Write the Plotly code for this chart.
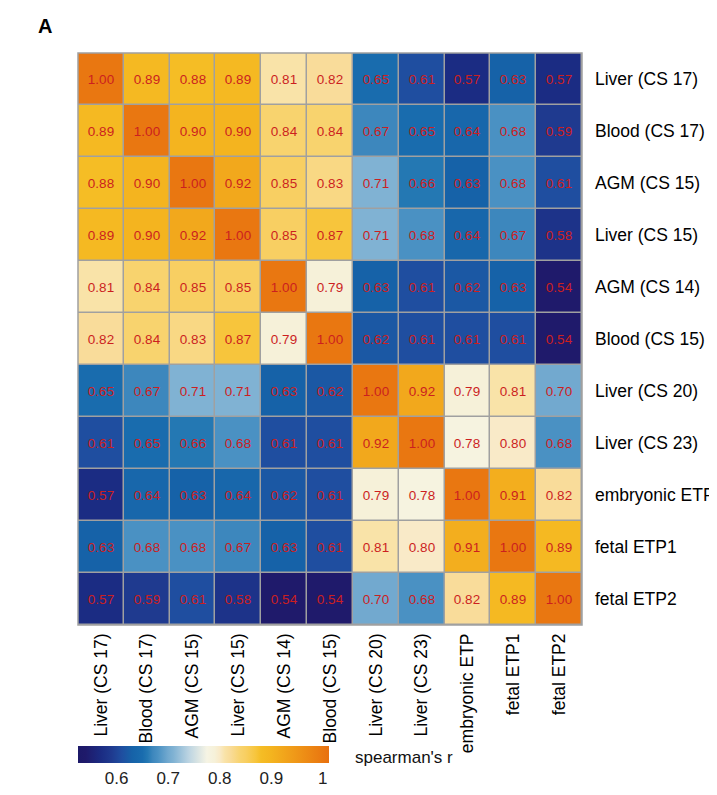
import plotly.graph_objects as go

labels = ["Liver (CS 17)", "Blood (CS 17)", "AGM (CS 15)", "Liver (CS 15)", "AGM (CS 14)",
          "Blood (CS 15)", "Liver (CS 20)", "Liver (CS 23)", "embryonic ETP", "fetal ETP1", "fetal ETP2"]

row_liver17 = [1.00, 0.89, 0.88, 0.89, 0.81, 0.82, 0.65, 0.61, 0.57, 0.63, 0.57]
row_blood17 = [0.89, 1.00, 0.90, 0.90, 0.84, 0.84, 0.67, 0.65, 0.64, 0.68, 0.59]
row_agm15 = [0.88, 0.90, 1.00, 0.92, 0.85, 0.83, 0.71, 0.66, 0.63, 0.68, 0.61]
row_liver15 = [0.89, 0.90, 0.92, 1.00, 0.85, 0.87, 0.71, 0.68, 0.64, 0.67, 0.58]
row_agm14 = [0.81, 0.84, 0.85, 0.85, 1.00, 0.79, 0.63, 0.61, 0.62, 0.63, 0.54]
row_blood15 = [0.82, 0.84, 0.83, 0.87, 0.79, 1.00, 0.62, 0.61, 0.61, 0.61, 0.54]
row_liver20 = [0.65, 0.67, 0.71, 0.71, 0.63, 0.62, 1.00, 0.92, 0.79, 0.81, 0.70]
row_liver23 = [0.61, 0.65, 0.66, 0.68, 0.61, 0.61, 0.92, 1.00, 0.78, 0.80, 0.68]
row_embryonic = [0.57, 0.64, 0.63, 0.64, 0.62, 0.61, 0.79, 0.78, 1.00, 0.91, 0.82]
row_fetal1 = [0.63, 0.68, 0.68, 0.67, 0.63, 0.61, 0.81, 0.80, 0.91, 1.00, 0.89]
row_fetal2 = [0.57, 0.59, 0.61, 0.58, 0.54, 0.54, 0.70, 0.68, 0.82, 0.89, 1.00]

z = [row_liver17, row_blood17, row_agm15, row_liver15, row_agm14, row_blood15,
     row_liver20, row_liver23, row_embryonic, row_fetal1, row_fetal2]

cbar_ticks = [0.6, 0.7, 0.8, 0.9, 1.0]
cbar_ticktext = ["0.6", "0.7", "0.8", "0.9", "1"]

zmin, zmax = 0.525, 1.012
stops = [
    (0.525, "#1c1968"), (0.54, "#1f1a6b"), (0.57, "#1b2c83"), (0.59, "#1f3a8f"),
    (0.61, "#1f4ea0"), (0.63, "#1662a8"), (0.65, "#196cae"), (0.66, "#2478b3"),
    (0.67, "#3d87bd"), (0.68, "#4a91c3"), (0.70, "#72a9cf"), (0.71, "#80b2d3"),
    (0.74, "#bcd4e2"), (0.775, "#f6f4e4"), (0.79, "#f6f1d9"), (0.80, "#f9eac8"),
    (0.81, "#f9e3a8"), (0.82, "#f9dc9a"), (0.84, "#f8d36e"), (0.85, "#f8cf62"),
    (0.87, "#f7c53c"), (0.88, "#f5bd25"), (0.90, "#f4b41f"), (0.92, "#f2a81c"),
    (0.96, "#ee9016"), (1.012, "#e8700f"),
]
colorscale = [[(v - zmin) / (zmax - zmin), c] for v, c in stops]

OFF = 8  # page body margin
W, H = 717 - OFF, 795 - OFF
L, R, T, B = 78 - OFF, 582 - OFF, 52.5 - OFF, 627 - OFF
pw, ph = R - L, B - T

fig = go.Figure(go.Heatmap(
    z=z, x=labels, y=labels,
    zmin=zmin, zmax=zmax, colorscale=colorscale,
    xgap=1.5, ygap=1.5,
    texttemplate="%{z:.2f}",
    textfont=dict(color="#cc1f1f", size=13.5, family="Liberation Sans, Arial, sans-serif"),
    hoverinfo="skip",
    colorbar=dict(
        orientation="h", lenmode="pixels", len=251, thicknessmode="pixels", thickness=17,
        x=0, xanchor="left", y=(B - (749 - OFF)) / ph, yanchor="top", xpad=0, ypad=0,
        outlinewidth=0, tickvals=cbar_ticks, ticktext=cbar_ticktext, ticks="",
        tickfont=dict(size=17, color="#222", family="Liberation Sans, Arial, sans-serif"),
    ),
))

fig.add_shape(type="rect", xref="paper", yref="paper", x0=0, x1=1, y0=0, y1=1,
              line=dict(color="#a0a0a0", width=1.5), fillcolor="rgba(0,0,0,0)")

fig.add_annotation(text="spearman's r", xref="paper", yref="paper",
                   x=(353 - OFF - L) / pw, y=(B - (760 - OFF)) / ph, xanchor="left", yanchor="middle",
                   showarrow=False, font=dict(size=17, color="#111", family="Liberation Sans, Arial, sans-serif"))
fig.add_annotation(text="<b>A</b>", xref="paper", yref="paper",
                   x=(36 - OFF - L) / pw, y=(B - (25 - OFF)) / ph, xanchor="left", yanchor="middle",
                   showarrow=False, font=dict(size=20, color="#000", family="Liberation Sans, Arial, sans-serif"))

fig.update_layout(
    width=W, height=H, autosize=False,
    margin=dict(l=L, r=W - R, t=T, b=H - B, pad=0),
    paper_bgcolor="white", plot_bgcolor="#a0a0a0",
    font=dict(family="Liberation Sans, Arial, sans-serif", color="#000"),
    xaxis=dict(side="bottom", tickangle=-90, showgrid=False, zeroline=False, ticks="",
               automargin=False, tickfont=dict(size=17.5, color="#000"), ticklabelstandoff=4),
    yaxis=dict(side="right", autorange="reversed", showgrid=False, zeroline=False, ticks="",
               automargin=False, tickfont=dict(size=17.5, color="#000"), ticklabelstandoff=12),
)

fig.write_html("out.html")
